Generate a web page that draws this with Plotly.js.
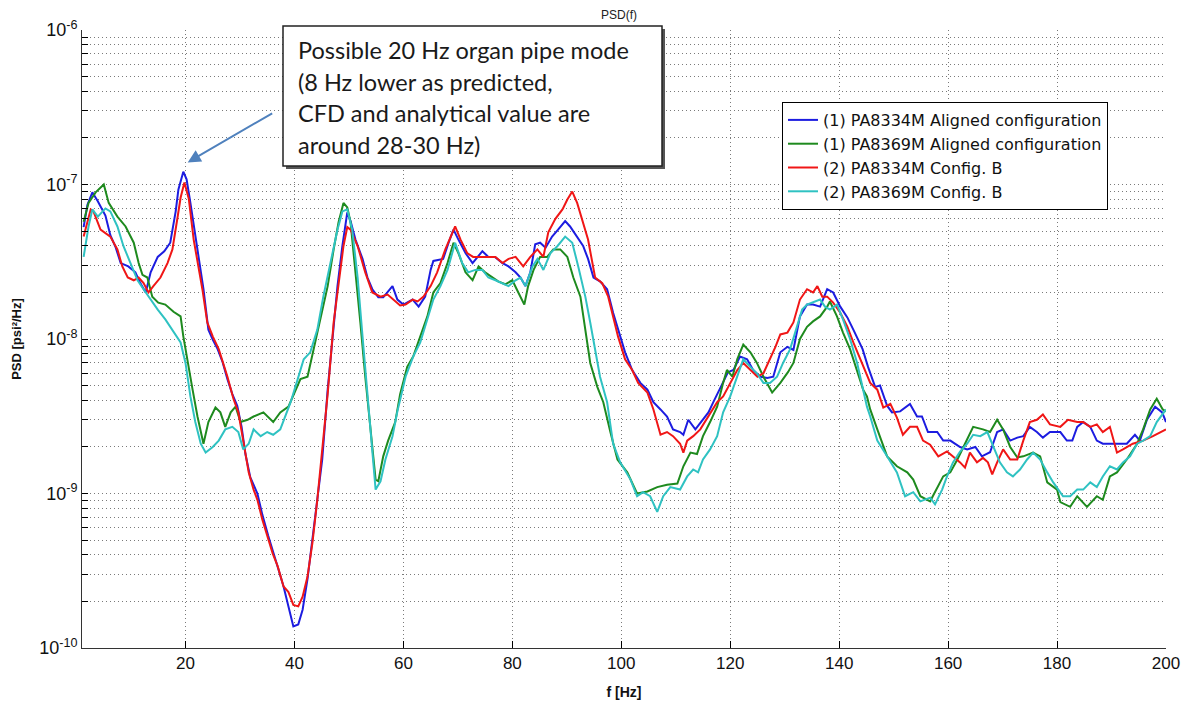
<!DOCTYPE html>
<html><head><meta charset="utf-8">
<script src="https://cdn.plot.ly/plotly-3.0.1.min.js"></script>
<style>html,body{margin:0;padding:0;background:#fff;}#chart{width:1194px;height:706px;}</style>
</head><body><div id="chart"></div>
<script>
// [frequency Hz, PSD psi^2/Hz]
const blueAligned8334 = [[1.3,5.3e-8],[2.0,7.4e-8],[2.9,8.9e-8],[3.9,7.8e-8],[5.3,6.3e-8],[6.2,4.7e-8],[7.2,3.9e-8],[8.1,3.1e-8],[9.5,2.95e-8],[10.8,2.7e-8],[11.7,2.3e-8],[12.7,2.0e-8],[13.6,2.7e-8],[14.9,3.4e-8],[16.1,3.7e-8],[17.2,4.2e-8],[18.2,6.7e-8],[18.7,9.3e-8],[19.6,1.21e-7],[20.2,1.08e-7],[20.9,7.6e-8],[21.5,5.5e-8],[22.2,3.8e-8],[23.3,2.1e-8],[24.2,1.15e-8],[25.0,9.9e-9],[25.9,8.6e-9],[26.8,7.1e-9],[27.7,5.5e-9],[28.6,4.4e-9],[29.5,3.7e-9],[30.3,2.7e-9],[31.0,1.8e-9],[31.9,1.27e-9],[33.2,1.0e-9],[34.1,7.3e-10],[35.2,5.3e-10],[36.1,4.1e-10],[37.1,3.2e-10],[38.0,2.5e-10],[38.9,1.86e-10],[39.8,1.38e-10],[40.7,1.42e-10],[41.5,1.77e-10],[42.4,2.8e-10],[43.3,5.0e-10],[44.2,9.1e-10],[45.1,1.66e-9],[46.1,4.7e-9],[47.0,1.04e-8],[47.9,2.2e-8],[48.8,4.0e-8],[49.4,5.8e-8],[49.7,6.6e-8],[50.3,5.8e-8],[51.2,4.4e-8],[52.5,3.3e-8],[53.4,2.5e-8],[54.3,2.1e-8],[55.4,1.86e-8],[56.3,1.86e-8],[57.1,2.0e-8],[58.0,2.2e-8],[58.9,1.8e-8],[60.0,1.67e-8],[61.7,1.8e-8],[62.8,1.62e-8],[64.0,1.88e-8],[65.0,2.8e-8],[65.5,3.2e-8],[67.3,3.3e-8],[68.3,4.2e-8],[69.2,5.1e-8],[70.1,4.4e-8],[71.4,3.6e-8],[72.7,3.1e-8],[73.6,3.4e-8],[74.5,3.7e-8],[75.6,3.4e-8],[76.8,3.4e-8],[78.2,3.1e-8],[79.3,2.95e-8],[80.6,2.7e-8],[81.5,2.5e-8],[82.4,2.2e-8],[83.3,2.7e-8],[84.2,4.1e-8],[85.1,4.2e-8],[86.1,3.9e-8],[87.3,4.6e-8],[88.4,5.1e-8],[89.7,5.8e-8],[90.6,5.35e-8],[91.9,4.6e-8],[93.0,4.0e-8],[93.9,3.3e-8],[94.9,2.5e-8],[96.1,2.36e-8],[97.4,2.1e-8],[98.5,1.48e-8],[99.8,1.04e-8],[100.7,8.2e-9],[102.0,6.3e-9],[103.5,5.2e-9],[104.8,4.7e-9],[105.9,3.9e-9],[107.2,3.5e-9],[108.4,3.15e-9],[109.5,2.6e-9],[110.8,2.5e-9],[111.4,2.4e-9],[112.3,3.0e-9],[113.6,2.6e-9],[114.9,3.0e-9],[116.0,3.35e-9],[116.9,3.9e-9],[118.2,4.9e-9],[119.6,6.1e-9],[120.6,6.3e-9],[121.8,7.7e-9],[123.1,7.4e-9],[124.2,6.3e-9],[125.5,5.7e-9],[126.8,5.6e-9],[127.9,5.7e-9],[129.2,8.2e-9],[130.5,8.9e-9],[131.6,8.5e-9],[132.8,1.4e-8],[134.1,1.67e-8],[135.2,1.67e-8],[136.5,1.62e-8],[137.8,2.1e-8],[138.9,2.0e-8],[140.2,1.62e-8],[141.5,1.38e-8],[142.6,1.15e-8],[144.3,8.6e-9],[145.3,6.6e-9],[146.6,4.9e-9],[147.5,5.0e-9],[148.8,3.7e-9],[149.7,3.35e-9],[151.2,3.4e-9],[153.0,3.8e-9],[154.3,3.15e-9],[155.2,3.15e-9],[156.3,2.5e-9],[158.0,2.5e-9],[159.1,2.2e-9],[160.4,2.2e-9],[162.2,2.0e-9],[163.5,1.93e-9],[165.0,2.0e-9],[166.2,1.74e-9],[167.7,1.85e-9],[169.0,2.5e-9],[170.1,2.6e-9],[171.4,2.2e-9],[172.7,2.3e-9],[173.8,2.35e-9],[175.0,2.7e-9],[176.3,2.5e-9],[177.4,2.3e-9],[178.7,2.5e-9],[180.6,2.5e-9],[181.8,2.2e-9],[182.8,2.2e-9],[183.7,2.7e-9],[184.8,2.9e-9],[186.1,2.7e-9],[187.3,2.2e-9],[188.4,2.1e-9],[189.7,2.1e-9],[191.0,2.1e-9],[192.8,2.1e-9],[194.3,2.4e-9],[195.2,2.2e-9],[196.5,3.0e-9],[198.0,3.65e-9],[199.3,3.35e-9],[200,2.9e-9]];

const greenAligned8369 = [[1.3,5.75e-8],[2.2,7.6e-8],[3.5,8.9e-8],[5.0,1.0e-7],[5.9,7.6e-8],[7.5,6.2e-8],[9.0,5.35e-8],[10.5,4.2e-8],[11.4,3.1e-8],[12.1,2.6e-8],[13.0,2.5e-8],[13.9,1.88e-8],[15.0,1.72e-8],[16.3,1.67e-8],[17.8,1.5e-8],[19.1,1.4e-8],[19.6,1.04e-8],[20.4,7.0e-9],[21.3,4.7e-9],[22.2,3.15e-9],[23.3,2.1e-9],[24.2,2.9e-9],[25.5,3.6e-9],[26.4,3.35e-9],[27.3,2.7e-9],[28.3,3.35e-9],[29.2,3.65e-9],[30.1,2.9e-9],[31.4,3.0e-9],[32.5,3.15e-9],[34.3,3.35e-9],[36.1,2.9e-9],[37.4,3.35e-9],[38.9,3.65e-9],[40.2,4.7e-9],[41.1,5.5e-9],[42.4,5.7e-9],[43.5,8.6e-9],[44.8,1.34e-8],[46.1,2.2e-8],[47.2,3.8e-8],[48.1,5.7e-8],[49.0,7.6e-8],[49.7,7.1e-8],[50.3,5.7e-8],[51.2,2.8e-8],[52.1,1.28e-8],[53.0,5.7e-9],[53.9,2.7e-9],[54.9,1.23e-9],[55.4,1.2e-9],[56.3,1.74e-9],[57.2,2.2e-9],[58.5,2.9e-9],[59.4,4.4e-9],[60.7,6.6e-9],[61.8,7.7e-9],[63.1,1.04e-8],[64.4,1.4e-8],[65.5,2.0e-8],[66.8,2.3e-8],[68.1,3.1e-8],[69.2,4.2e-8],[70.1,3.6e-8],[71.4,2.7e-8],[72.7,2.4e-8],[73.8,2.95e-8],[75.0,2.7e-8],[76.3,2.5e-8],[77.4,2.36e-8],[78.7,2.26e-8],[80.0,2.4e-8],[81.1,2.0e-8],[82.2,1.67e-8],[82.9,2.2e-8],[83.9,2.8e-8],[85.1,3.4e-8],[86.4,3.4e-8],[87.5,3.8e-8],[88.8,3.8e-8],[90.1,3.4e-8],[91.2,2.5e-8],[92.5,1.88e-8],[93.4,1.15e-8],[94.3,7.0e-9],[95.6,4.9e-9],[96.7,3.9e-9],[98.0,2.5e-9],[99.3,1.66e-9],[101.1,1.37e-9],[102.9,1.0e-9],[104.8,1.03e-9],[106.6,1.1e-9],[108.4,1.14e-9],[110.3,1.16e-9],[111.4,1.5e-9],[112.7,1.84e-9],[113.9,1.8e-9],[115.0,2.35e-9],[116.3,2.9e-9],[117.6,3.65e-9],[118.7,5.2e-9],[119.4,6.3e-9],[120.4,5.7e-9],[121.3,7.4e-9],[122.4,9.2e-9],[123.7,8.2e-9],[124.9,7.0e-9],[126.1,5.7e-9],[127.7,4.5e-9],[129.2,5.2e-9],[130.6,6.1e-9],[131.6,7.0e-9],[132.8,1.0e-8],[134.1,1.2e-8],[135.2,1.3e-8],[136.5,1.4e-8],[137.8,1.62e-8],[138.3,1.75e-8],[139.6,1.4e-8],[140.7,1.1e-8],[142.0,8.6e-9],[143.3,6.2e-9],[144.4,4.7e-9],[145.1,4.25e-9],[145.7,3.5e-9],[147.0,2.6e-9],[148.8,1.74e-9],[150.6,1.5e-9],[152.5,1.37e-9],[153.6,1.23e-9],[154.9,9.6e-10],[156.7,8.9e-10],[158.0,1.1e-9],[159.1,1.29e-9],[160.4,1.37e-9],[161.7,1.66e-9],[163.1,2.1e-9],[164.6,2.7e-9],[166.4,2.6e-9],[167.7,2.5e-9],[169.0,3.0e-9],[170.1,2.6e-9],[171.4,2.0e-9],[172.7,1.71e-9],[173.8,1.74e-9],[175.6,1.84e-9],[176.9,1.74e-9],[178.2,1.18e-9],[180.0,1.06e-9],[180.6,8.8e-10],[182.4,8.2e-10],[183.7,9.6e-10],[185.5,8.2e-10],[187.3,9.6e-10],[188.4,9.1e-10],[189.7,1.29e-9],[191.0,1.37e-9],[192.8,1.66e-9],[194.7,2.1e-9],[195.8,2.6e-9],[197.1,3.5e-9],[198.3,4.1e-9],[199.4,3.5e-9],[200,3.4e-9]];

const redConfigB8334 = [[1.3,4.6e-8],[2.6,6.9e-8],[3.1,6.7e-8],[4.4,5.1e-8],[6.2,4.6e-8],[7.5,3.8e-8],[8.4,2.95e-8],[9.4,2.5e-8],[10.5,2.4e-8],[11.4,2.5e-8],[12.3,2.3e-8],[13.2,2.0e-8],[14.1,2.2e-8],[15.4,2.5e-8],[16.7,3.1e-8],[17.6,3.8e-8],[18.5,6.0e-8],[19.1,8.2e-8],[19.8,1.03e-7],[20.6,8.1e-8],[21.5,4.4e-8],[22.2,3.2e-8],[23.1,2.1e-8],[24.0,1.28e-8],[25.0,1.04e-8],[26.1,8.6e-9],[27.7,5.7e-9],[28.8,4.1e-9],[29.7,3.35e-9],[30.6,2.2e-9],[31.6,1.37e-9],[32.5,1.06e-9],[33.2,9.1e-10],[34.1,6.8e-10],[35.0,5.3e-10],[36.0,4.1e-10],[36.9,3.4e-10],[38.0,2.5e-10],[38.9,2.3e-10],[39.8,1.9e-10],[40.7,1.86e-10],[41.5,2.15e-10],[42.4,2.9e-10],[43.3,4.8e-10],[44.2,9.1e-10],[45.1,1.84e-9],[46.1,4.4e-9],[47.2,1.28e-8],[48.1,2.3e-8],[49.0,4.0e-8],[49.7,5.3e-8],[50.3,5.1e-8],[51.6,4.0e-8],[53.0,2.7e-8],[54.3,2.0e-8],[55.8,1.88e-8],[57.1,1.94e-8],[58.5,1.75e-8],[59.4,1.65e-8],[60.4,1.67e-8],[61.7,1.8e-8],[62.6,1.75e-8],[63.7,1.88e-8],[65.0,2.2e-8],[66.2,2.7e-8],[67.7,3.8e-8],[69.0,4.9e-8],[69.5,5.35e-8],[70.5,4.4e-8],[71.7,3.6e-8],[72.8,3.4e-8],[74.1,3.4e-8],[75.4,3.4e-8],[76.9,3.4e-8],[78.2,3.1e-8],[79.3,3.3e-8],[80.6,3.4e-8],[82.0,2.95e-8],[83.3,3.4e-8],[84.6,3.8e-8],[85.7,3.4e-8],[86.6,4.9e-8],[87.9,6.0e-8],[89.2,6.9e-8],[90.1,8.0e-8],[91.0,9.0e-8],[91.9,7.6e-8],[92.8,6.0e-8],[93.9,4.4e-8],[95.2,2.5e-8],[96.5,2.3e-8],[97.6,1.88e-8],[98.5,1.4e-8],[99.4,1.04e-8],[100.7,7.4e-9],[102.0,6.3e-9],[103.1,5.2e-9],[104.8,4.5e-9],[105.9,3.5e-9],[107.2,2.4e-9],[108.4,2.5e-9],[109.5,2.35e-9],[110.8,2.1e-9],[111.4,1.84e-9],[112.1,2.2e-9],[113.2,2.35e-9],[114.5,2.6e-9],[116.0,3.15e-9],[117.6,3.9e-9],[118.7,4.25e-9],[120.0,5.2e-9],[121.3,6.3e-9],[122.4,7.0e-9],[123.7,6.3e-9],[125.0,5.7e-9],[126.1,6.0e-9],[127.3,7.4e-9],[128.3,8.9e-9],[129.2,1.07e-8],[130.5,1.1e-8],[131.6,1.28e-8],[132.8,1.8e-8],[134.1,2.1e-8],[135.2,2.0e-8],[136.0,2.2e-8],[136.9,1.88e-8],[137.8,1.88e-8],[138.9,1.72e-8],[140.2,1.48e-8],[141.5,1.2e-8],[142.6,9.5e-9],[144.2,7.0e-9],[145.7,5.2e-9],[147.0,4.7e-9],[148.1,3.6e-9],[149.4,3.8e-9],[150.6,3.1e-9],[151.7,2.4e-9],[153.0,2.7e-9],[154.3,2.7e-9],[155.4,2.2e-9],[156.7,2.07e-9],[158.2,1.74e-9],[159.8,1.87e-9],[160.9,1.74e-9],[162.2,1.59e-9],[163.1,1.47e-9],[164.0,1.84e-9],[165.3,1.59e-9],[166.4,1.7e-9],[167.3,1.59e-9],[168.1,1.33e-9],[169.0,1.59e-9],[170.1,1.93e-9],[171.4,1.66e-9],[172.7,1.66e-9],[173.8,2.2e-9],[175.0,2.9e-9],[176.3,3.0e-9],[177.4,3.25e-9],[178.7,2.8e-9],[180.6,2.7e-9],[182.0,3.0e-9],[183.7,2.9e-9],[184.8,2.9e-9],[186.1,2.7e-9],[187.3,2.8e-9],[188.4,2.5e-9],[189.7,2.7e-9],[191.0,1.84e-9],[192.1,1.93e-9],[193.9,2.1e-9],[195.8,2.2e-9],[197.6,2.35e-9],[200,2.6e-9]];

const cyanConfigB8369 = [[1.3,3.4e-8],[2.2,5.35e-8],[2.9,6.9e-8],[3.9,6.2e-8],[5.3,7.0e-8],[6.2,6.7e-8],[7.5,5.35e-8],[8.6,4.0e-8],[9.9,3.1e-8],[11.2,2.4e-8],[12.3,2.1e-8],[13.6,1.8e-8],[14.9,1.55e-8],[16.3,1.34e-8],[17.8,1.12e-8],[19.1,9.5e-9],[20.0,7.0e-9],[20.9,4.25e-9],[21.8,2.9e-9],[22.8,2.1e-9],[23.7,1.84e-9],[25.0,2.0e-9],[26.1,2.2e-9],[27.3,2.6e-9],[28.6,2.7e-9],[29.7,2.5e-9],[30.6,1.93e-9],[31.6,2.1e-9],[32.5,2.6e-9],[33.8,2.35e-9],[35.0,2.5e-9],[36.1,2.4e-9],[37.4,2.6e-9],[38.3,3.15e-9],[39.3,3.9e-9],[40.6,5.5e-9],[41.7,7.4e-9],[42.9,8.2e-9],[44.2,1.15e-8],[45.3,1.88e-8],[46.6,3.1e-8],[47.9,5.1e-8],[48.8,6.7e-8],[49.7,6.9e-8],[50.6,5.1e-8],[51.6,2.5e-8],[52.5,1.04e-8],[53.4,4.25e-9],[54.3,1.93e-9],[54.9,1.06e-9],[55.8,1.2e-9],[56.7,1.66e-9],[58.0,2.35e-9],[58.9,3.4e-9],[60.4,5.7e-9],[61.8,7.7e-9],[63.1,9.5e-9],[64.4,1.34e-8],[65.5,1.8e-8],[66.8,2.2e-8],[68.1,2.8e-8],[69.5,4.2e-8],[70.8,3.1e-8],[71.9,2.7e-8],[73.2,2.8e-8],[74.5,2.8e-8],[75.6,2.5e-8],[76.9,2.4e-8],[78.2,2.3e-8],[79.3,2.2e-8],[80.6,2.4e-8],[81.5,2.5e-8],[82.4,2.2e-8],[83.7,2.95e-8],[84.6,3.3e-8],[85.7,2.8e-8],[87.0,3.6e-8],[88.3,4.0e-8],[89.7,4.6e-8],[91.0,4.2e-8],[92.1,2.95e-8],[93.4,1.88e-8],[94.3,1.28e-8],[95.2,8.6e-9],[96.1,5.7e-9],[97.4,3.9e-9],[98.5,2.1e-9],[99.8,1.59e-9],[101.7,1.23e-9],[102.9,9.6e-10],[104.0,1.02e-9],[105.3,9.6e-10],[106.6,7.6e-10],[107.7,9.6e-10],[109.0,1.1e-9],[110.8,1.06e-9],[112.1,1.29e-9],[113.2,1.43e-9],[114.1,1.37e-9],[115.0,1.66e-9],[116.3,1.93e-9],[117.6,2.35e-9],[118.7,3.35e-9],[120.0,4.25e-9],[121.3,5.7e-9],[122.4,7.4e-9],[123.7,6.6e-9],[124.9,6.0e-9],[126.1,5.2e-9],[127.3,5.2e-9],[128.6,5.7e-9],[129.7,7.0e-9],[131.0,8.6e-9],[132.3,1.2e-8],[133.2,1.55e-8],[134.1,1.67e-8],[135.2,1.72e-8],[136.5,1.8e-8],[137.4,1.62e-8],[138.3,1.55e-8],[139.6,1.67e-8],[140.7,1.34e-8],[142.0,1.0e-8],[143.3,7.0e-9],[144.4,4.7e-9],[145.1,3.65e-9],[145.7,3.15e-9],[147.0,2.2e-9],[148.8,1.74e-9],[150.6,1.37e-9],[152.1,9.6e-10],[153.6,1.02e-9],[154.9,8.9e-10],[156.7,9.4e-10],[157.6,8.5e-10],[158.9,1.06e-9],[159.8,1.29e-9],[160.9,1.59e-9],[162.2,1.87e-9],[163.5,2.1e-9],[164.6,2.4e-9],[165.9,2.35e-9],[167.2,2.5e-9],[168.3,2.0e-9],[169.5,1.59e-9],[170.8,1.37e-9],[171.9,1.29e-9],[173.2,1.43e-9],[174.5,1.66e-9],[175.6,1.84e-9],[176.9,1.66e-9],[178.2,1.37e-9],[179.3,1.18e-9],[181.1,9.6e-10],[182.4,9.6e-10],[183.7,1.06e-9],[184.8,1.06e-9],[186.1,1.18e-9],[187.3,1.1e-9],[188.4,1.29e-9],[189.7,1.5e-9],[191.0,1.43e-9],[192.1,1.59e-9],[193.4,1.74e-9],[194.7,2.1e-9],[195.8,2.2e-9],[197.1,2.35e-9],[198.3,2.9e-9],[200,3.5e-9]];

const seriesNames = ['(1) PA8334M Aligned configuration','(1) PA8369M Aligned configuration','(2) PA8334M Config. B','(2) PA8369M Config. B'];
const xTickVals = [20,40,60,80,100,120,140,160,180,200];
const yDecades = [-10,-9,-8,-7,-6];
const annotationLines = ['Possible 20 Hz organ pipe mode','(8 Hz lower as predicted,','CFD and analytical value are','around 28-30 Hz)'];

const seriesData = [blueAligned8334, greenAligned8369, redConfigB8334, cyanConfigB8369];
const seriesColors = ['#1c1ce0','#1e8a1e','#f01616','#2fc2c2'];

const traces = seriesData.map((s,i)=>({
  type:'scatter', mode:'lines', name:seriesNames[i],
  x:s.map(p=>p[0]), y:s.map(p=>p[1]),
  line:{color:seriesColors[i], width:2}
}));

const yTickVals=[], yTickText=[];
yDecades.forEach(d=>{
  for(let m=1;m<=9;m++){
    if(d===-6 && m>1) break;
    yTickVals.push(m*Math.pow(10,d));
    yTickText.push(m===1 ? '10<sup>'+d+'</sup>' : '');
  }
});

const L=82, R=1166, T=30, B=648, W=R-L, H=B-T;
const px=x=>(x-L)/W, py=y=>(B-y)/H;

const lineYs=[50,82,113,145];
const annotations = annotationLines.map((t,i)=>({
  xref:'paper', yref:'paper', x:px(296), y:py(lineYs[i]), xanchor:'left', yanchor:'middle',
  text:t, showarrow:false, font:{family:'Lato, Open Sans, sans-serif', size:23.5, color:'#1a1a1a'}
}));
annotations.push({
  x:20.4, y:Math.log10(1.39e-7), xref:'x', yref:'y', text:'', showarrow:true,
  ax:86, ay:-50, arrowcolor:'#4f81bd', arrowwidth:2, arrowhead:2, arrowsize:1.3, standoff:0
});

const gridStyle = {showgrid:true, gridcolor:'#7a7a7a', griddash:'1px,3px', gridwidth:1};

const layout = {
  width:1194, height:706,
  paper_bgcolor:'#fff', plot_bgcolor:'#fff',
  margin:{l:L, r:1194-R, t:T, b:706-B},
  font:{family:'Arial, Liberation Sans, sans-serif', color:'#111'},
  title:{text:'PSD(f)', font:{size:12, color:'#222'}, x:619/1194, xanchor:'center', y:1-15/706, yanchor:'middle'},
  xaxis:Object.assign({range:[1,200], tickvals:xTickVals, ticks:'inside', ticklen:7, tickcolor:'#000',
    showline:true, linecolor:'#333', linewidth:1, mirror:false, zeroline:false,
    tickfont:{size:17, color:'#111'},
    title:{text:'<b>f [Hz]</b>', font:{size:14, color:'#111'}, standoff:14}}, gridStyle),
  yaxis:Object.assign({type:'log', range:[-10,-6], tickvals:yTickVals, ticktext:yTickText, ticks:'inside', ticklen:6, tickcolor:'#000',
    showline:true, linecolor:'#333', linewidth:1, mirror:false, zeroline:false,
    tickfont:{size:18, color:'#111'},
    title:{text:'<b>PSD [psi²/Hz]</b>', font:{size:13, color:'#111'}, standoff:14}}, gridStyle),
  legend:{x:px(782), y:py(102), xanchor:'left', yanchor:'top', bgcolor:'#fff', bordercolor:'#000', borderwidth:1,
    font:{family:'DejaVu Sans, sans-serif', size:16, color:'#111'}, tracegroupgap:0},
  showlegend:true,
  shapes:[
    {type:'rect', xref:'paper', yref:'paper', x0:px(286), x1:px(665), y0:py(169), y1:py(29), fillcolor:'#555', line:{width:0}, layer:'above'},
    {type:'rect', xref:'paper', yref:'paper', x0:px(283), x1:px(662), y0:py(166), y1:py(26), fillcolor:'#fff', line:{color:'#222', width:1.5}, layer:'above'}
  ],
  annotations:annotations
};

Plotly.newPlot('chart', traces, layout, {displayModeBar:false, staticPlot:true});
</script>
</body></html>
